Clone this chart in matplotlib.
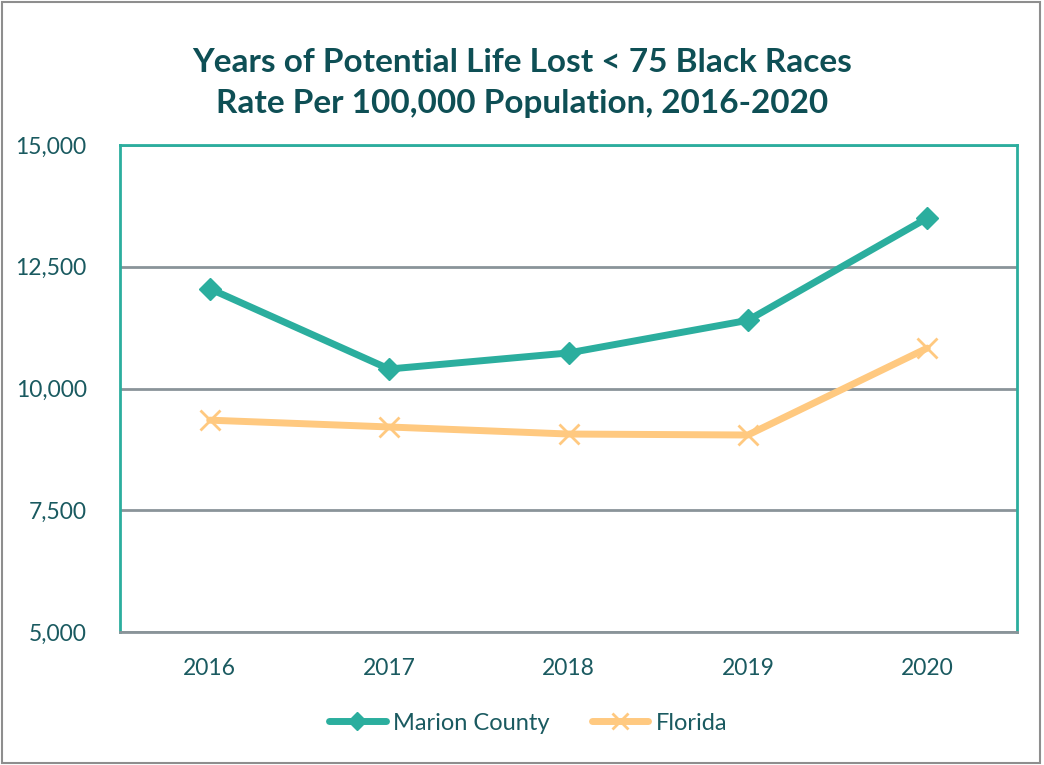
import matplotlib
matplotlib.use("Agg")
import matplotlib.pyplot as plt
from matplotlib.patches import Rectangle
from matplotlib.ticker import FuncFormatter
from matplotlib.lines import Line2D

years = ["2016", "2017", "2018", "2019", "2020"]
marion = [12050, 10400, 10730, 11400, 13500]
florida = [9350, 9210, 9065, 9045, 10830]

TEAL = "#2BAE9E"
ORANGE = "#FFC980"
TEXT = "#1A5A60"
TITLE = "#0E4F55"
GRID = "#8A9499"

plt.rcParams['font.family'] = ['Lato', 'DejaVu Sans']

fig = plt.figure(figsize=(10.44, 7.65), dpi=100)
ax = fig.add_axes([120/1044, 1-632/765, (1017-120)/1044, (632-145)/765])

x = list(range(len(years)))
ax.plot(x, marion, color=TEAL, lw=5, marker="D", ms=11, label="Marion County",
        solid_capstyle="round", zorder=3)
ax.plot(x, florida, color=ORANGE, lw=5, marker="x", ms=14, mew=2, label="Florida",
        solid_capstyle="round", zorder=3)

ax.set_xlim(-0.5, 4.5)
ax.set_ylim(5000, 15000)
ax.set_yticks([5000, 7500, 10000, 12500, 15000])
ax.yaxis.set_major_formatter(FuncFormatter(lambda v, p: f"{int(v):,}"))
ax.set_xticks(x)
ax.set_xticklabels(years)
ax.tick_params(axis="both", length=0, labelsize=16.5, colors=TEXT)
ax.tick_params(axis="y", pad=24)
ax.tick_params(axis="x", pad=19)
ax.grid(axis="y", color=GRID, lw=2)
ax.set_axisbelow(True)
for s in ["left", "right", "top"]:
    ax.spines[s].set_color(TEAL)
    ax.spines[s].set_linewidth(2)
ax.spines["bottom"].set_color(GRID)
ax.spines["bottom"].set_linewidth(2)

fig.text(0.5, 1-62/765, "Years of Potential Life Lost < 75 Black Races", ha="center",
         va="center", fontsize=24, fontweight="bold", color=TITLE)
fig.text(0.5, 1-104/765, "Rate Per 100,000 Population, 2016-2020", ha="center",
         va="center", fontsize=24, fontweight="bold", color=TITLE)

handles = [
    Line2D([], [], color=TEAL, lw=5, marker="D", ms=9, solid_capstyle="round"),
    Line2D([], [], color=ORANGE, lw=5, marker="x", ms=12, mew=2, solid_capstyle="round"),
]
leg = fig.legend(handles, ["Marion County", "Florida"], loc="center",
                 bbox_to_anchor=(528/1044, 1-723/765), ncol=2,
                 frameon=False, fontsize=17, handlelength=2.4, columnspacing=1.8,
                 handletextpad=0.3)
for t in leg.get_texts():
    t.set_color(TEXT)

fig.patches.append(Rectangle((2/1044, 2/765), 1038/1044, 761/765, transform=fig.transFigure,
                             fill=False, edgecolor="#8E8E8E", lw=1.5))

fig.savefig("out.png", dpi=100)
